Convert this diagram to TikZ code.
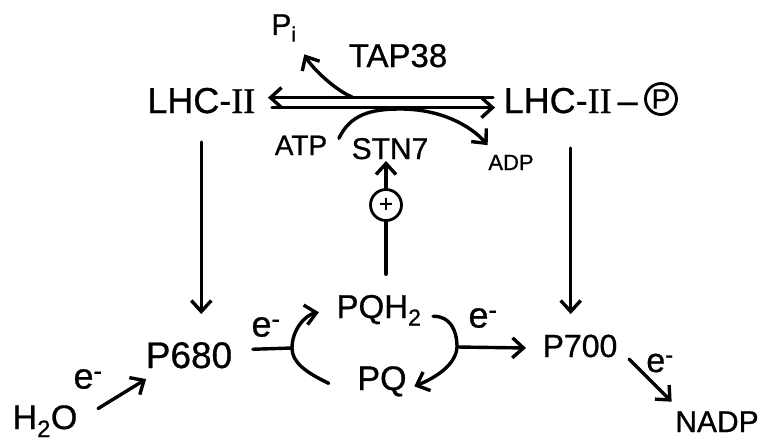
\documentclass[tikz,border=0pt]{standalone}
\usepackage{fontspec}
\setmainfont{Liberation Sans}[FakeBold=0.8]
\newfontfamily\srf{Liberation Serif}[FakeBold=0.8]
\usetikzlibrary{arrows.meta,calc}
\newcommand\eminus{e\textsuperscript{-}}
\begin{document}
\begin{tikzpicture}[x=1pt,y=-1pt,line width=3.4pt,line cap=round,line join=round,
  lbl/.style={inner sep=0pt,font=\fontsize{#1}{#1}\selectfont},
  arr/.style={-{Straight Barb[length=11pt,width=20pt]}},
  plain/.style={-},
  ring/.style={draw,circle,inner sep=0pt,minimum size=31pt,line width=2.8pt}]
\useasboundingbox (0,0) rectangle (762,444);
% labels
\node[lbl=30,anchor=base] (pi) at (284,35) {P\textsubscript{i}};
\node[lbl=33,anchor=base] (tap) at (398,67) {TAP38};
\node[lbl=36,anchor=base east] (lhcL) at (257,113) {LHC-{\srf II}};
\node[lbl=36,anchor=base west] (lhcR) at (502,113) {LHC-{\srf II}\hspace{6pt}–};
\node[ring,font=\fontsize{28}{28}\selectfont] (cp) at (661,99) {P};
\node[lbl=28,anchor=base] (atp) at (301,155) {ATP};
\node[lbl=30,anchor=base] (stn) at (390,159) {STN7};
\node[lbl=22,anchor=base] (adp) at (511,170) {ADP};
\node[ring,font=\fontsize{24}{24}\selectfont] (plus) at (386,205) {+};
\node[lbl=33,anchor=base] (pqh) at (379,318) {PQH\textsubscript{2}};
\node[lbl=34,anchor=base] (pq) at (382,390) {PQ};
\node[lbl=37,anchor=base] (p680) at (189,368) {P680};
\node[lbl=32,anchor=base] (p700) at (580,357) {P700};
\node[lbl=34,anchor=base] (h2o) at (45,429) {H\textsubscript{2}O};
\node[lbl=30,anchor=base] (nadp) at (717,432) {NADP};
\node[lbl=36] (e1) at (88,379) {\eminus};
\node[lbl=36] (e2) at (266,327) {\eminus};
\node[lbl=36] (e3) at (483,318) {\eminus};
\node[lbl=34] (e4) at (660,363) {\eminus};
% junctions
\coordinate (pj) at (352,97);
\coordinate (jl) at (292,348);
\coordinate (jr) at (457,347);
% LHC equilibrium
\draw[arr] ($(lhcR.west)+(-9,-3)$) -- ($(lhcL.east)+(11,-3)$);
\draw[arr] ($(lhcL.east)+(15,7)$) -- ($(lhcR.west)+(-7,7)$);
\draw[arr] (pj) .. controls (335,90) and (312,68) .. ($(pi.south east)+(6,11)$);
\draw[arr] ($(atp.east)+(10,-7)$) .. controls (350,115) and (370,109) .. (400,109)
   .. controls (440,109) and (470,125) .. ($(adp.north west)+(1,-8)$);
% regulation
\draw[arr] (plus.north) -- (plus.north |- stn.south);
\draw[plain,shorten >=19pt] (plus.south) -- (plus.south |- pqh.north);
% vertical arrows
\draw[arr] ($(lhcL.south)+(0,27)$) -- ($(lhcL.south)+(0,199)$);
\draw[arr] ($(lhcR.south)+(0,33)$) -- ($(lhcR.south)+(0,199)$);
% electron transport
\draw[arr] ($(h2o.north east)+(19,5)$) -- ($(p680.south west)+(2,9)$);
\draw[plain] ($(p680.east)+(19,-6)$) -- (jl);
\draw[arr] ($(pq.west)+(-27,2)$) .. controls (305,372) and (292,362) .. (jl)
   .. controls (292,330) and (305,315) .. ($(pqh.west)+(-16,2)$);
\draw[arr] ($(pqh.east)+(10,6)$) .. controls (450,316) and (457,330) .. (jr)
   .. controls (456,365) and (435,378) .. ($(pq.east)+(6,5)$);
\draw[arr] (jr) -- ($(p700.west)+(-15,2)$);
\draw[arr] ($(p700.south east)+(10,0)$) -- ($(nadp.north west)+(-2,-8)$);
\end{tikzpicture}
\end{document}
